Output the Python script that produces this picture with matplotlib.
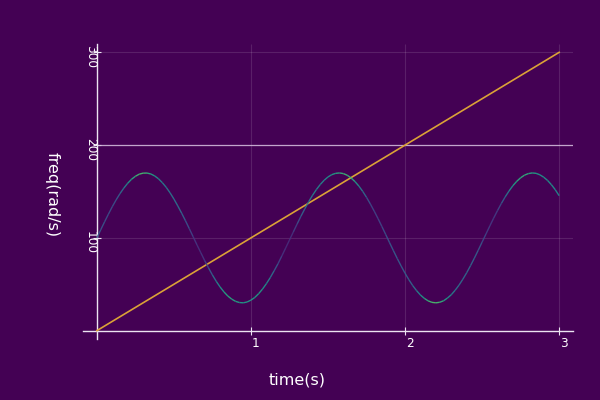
import numpy as np
import matplotlib
matplotlib.use("Agg")
import matplotlib.pyplot as plt
from matplotlib.collections import LineCollection
from matplotlib.transforms import ScaledTranslation

# ---- data ----
t_wave = [0.000, 0.025, 0.050, 0.075, 0.100, 0.125, 0.150, 0.175, 0.200, 0.225,
          0.250, 0.275, 0.300, 0.325, 0.350, 0.375, 0.400, 0.425, 0.450, 0.475,
          0.500, 0.525, 0.550, 0.575, 0.600, 0.625, 0.650, 0.675, 0.700, 0.725,
          0.750, 0.775, 0.800, 0.825, 0.850, 0.875, 0.900, 0.925, 0.950, 0.975,
          1.000, 1.025, 1.050, 1.075, 1.100, 1.125, 1.150, 1.175, 1.200, 1.225,
          1.250, 1.275, 1.300, 1.325, 1.350, 1.375, 1.400, 1.425, 1.450, 1.475,
          1.500, 1.525, 1.550, 1.575, 1.600, 1.625, 1.650, 1.675, 1.700, 1.725,
          1.750, 1.775, 1.800, 1.825, 1.850, 1.875, 1.900, 1.925, 1.950, 1.975,
          2.000, 2.025, 2.050, 2.075, 2.100, 2.125, 2.150, 2.175, 2.200, 2.225,
          2.250, 2.275, 2.300, 2.325, 2.350, 2.375, 2.400, 2.425, 2.450, 2.475,
          2.500, 2.525, 2.550, 2.575, 2.600, 2.625, 2.650, 2.675, 2.700, 2.725,
          2.750, 2.775, 2.800, 2.825, 2.850, 2.875, 2.900, 2.925, 2.950, 2.975,
          3.000]
freq_wave = [100.0, 108.7, 117.3, 125.6, 133.6, 141.0, 147.7, 153.7, 158.9, 163.2,
             166.4, 168.7, 169.8, 169.9, 168.9, 166.8, 163.7, 159.5, 154.5, 148.6,
             141.9, 134.5, 126.7, 118.5, 109.9, 101.2, 92.4, 83.9, 75.4, 67.5,
             60.0, 53.1, 47.0, 41.7, 37.3, 34.0, 31.6, 30.3, 30.0, 30.9,
             32.9, 35.8, 39.9, 44.8, 50.6, 57.1, 64.4, 72.0, 80.4, 89.0,
             97.7, 106.4, 115.1, 123.5, 131.5, 139.1, 146.0, 152.2, 157.6, 162.1,
             165.7, 168.2, 169.6, 170.0, 169.3, 167.5, 164.6, 160.7, 155.9, 150.2,
             143.7, 136.5, 128.8, 120.7, 112.2, 103.5, 94.7, 86.1, 77.6, 69.6,
             61.9, 54.9, 48.5, 43.1, 38.4, 34.8, 32.1, 30.5, 30.0, 30.6,
             32.2, 35.1, 38.7, 43.5, 49.0, 55.4, 62.4, 70.1, 78.2, 86.7,
             95.4, 104.1, 112.8, 121.3, 129.4, 137.1, 144.2, 150.6, 156.3, 161.0,
             164.8, 167.6, 169.3, 170.0, 169.6, 168.0, 165.4, 161.9, 157.3, 151.9,
             145.5]
t_ramp = [0.0, 3.0]
freq_ramp = [0.0, 300.0]
level_value = 200.0
level_t = [0.0, 3.09]

xticks = [1, 2, 3]
yticks = [100, 200, 300]
xlim = (-0.09, 3.09)
ylim = (-9, 309)

BG = "#440154"
FG = "#ffffff"

fig = plt.figure(figsize=(6, 4), dpi=100, facecolor=BG)
ax = fig.add_axes([83/600, 61/400, 490/600, 295/400])
ax.set_facecolor(BG)
ax.set_xlim(*xlim)
ax.set_ylim(*ylim)

# grid (from origin to upper limits)
ax.vlines(xticks, 0, ylim[1], colors=(1, 1, 1, 0.12), linewidth=0.8, zorder=1)
ax.hlines(yticks, 0, xlim[1], colors=(1, 1, 1, 0.12), linewidth=0.8, zorder=1)

# horizontal level line
ax.hlines([level_value], level_t[0], level_t[1], colors="#d6bfe0", linewidth=0.9,
          alpha=0.85, zorder=2)

# ramp
ax.plot(t_ramp, freq_ramp, color="#dba237", linewidth=1.2, zorder=3)

# wave with colour gradient
tw = np.asarray(t_wave)
fw = np.asarray(freq_wave)
pts = np.column_stack([tw, fw]).reshape(-1, 1, 2)
segs = np.concatenate([pts[:-1], pts[1:]], axis=1)
mid = 0.5 * (tw[:-1] + tw[1:])
zc = 0.42 - 0.22 * np.cos(10 * mid) + 0.08 * np.cos(23 * mid)
lc = LineCollection(segs, colors=plt.cm.viridis(zc), linewidth=1.0, alpha=0.9, zorder=4)
ax.add_collection(lc)

# spines through origin
for s in ["top", "right"]:
    ax.spines[s].set_visible(False)
ax.spines["left"].set_position(("data", 0))
ax.spines["bottom"].set_position(("data", 0))
for s in ["left", "bottom"]:
    ax.spines[s].set_color("#ece4f2")
    ax.spines[s].set_linewidth(1.0)

ax.set_xticks(xticks)
ax.set_yticks(yticks)
ax.tick_params(direction="inout", length=6, width=0.8, colors="#ece4f2",
               labelbottom=False, labelleft=False)

xoff = ax.transData + ScaledTranslation(0.05, -0.13, fig.dpi_scale_trans)
for v in xticks:
    ax.text(v, 0, str(v), transform=xoff, ha="center", va="center",
            fontsize=8.7, color=FG)
yoff = ax.transData + ScaledTranslation(-0.065, -0.045, fig.dpi_scale_trans)
for v in yticks:
    ax.text(0, v, str(v), transform=yoff, ha="center", va="center",
            rotation=-90, fontsize=8.7, color=FG)

fig.text(297/600, 1 - 380/400, "time(s)", ha="center", va="center",
         fontsize=11.5, color=FG)
fig.text(52/600, 1 - 195/400, "freq(rad/s)", ha="center", va="center",
         rotation=-90, fontsize=11.5, color=FG)

fig.savefig("out.png", dpi=100, facecolor=BG)
